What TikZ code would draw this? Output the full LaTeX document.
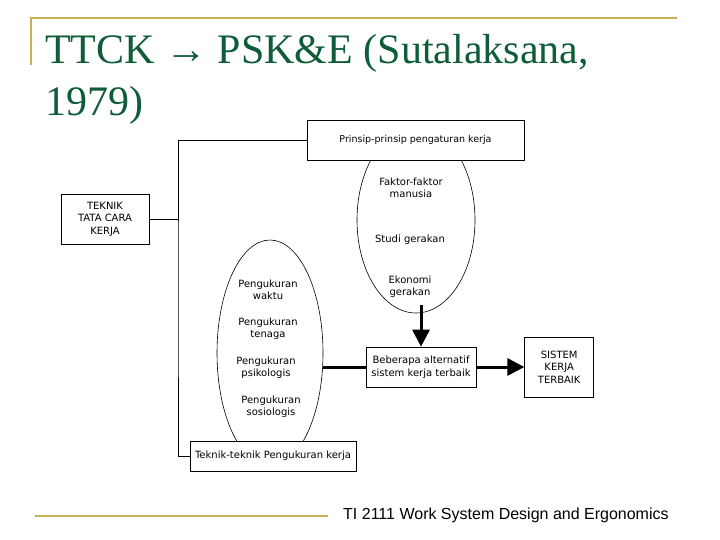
\documentclass[tikz,border=0pt]{standalone}
\usepackage{fontspec}
\setmainfont{Liberation Serif}
\newfontfamily\boxfont{DejaVu Sans}
\newfontfamily\footfont{Liberation Sans}
\usepackage{tikz}
\usetikzlibrary{positioning,shapes.geometric,arrows.meta,calc}
\definecolor{mygold}{RGB}{196,178,84}
\definecolor{mygreen}{RGB}{14,92,56}

\begin{document}
\begin{tikzpicture}[
  x=1pt,
  y=-1pt,
  mybox/.style={
    draw,
    line width=0.7pt,
    fill=white,
    align=center,
    font=\boxfont\fontsize{10}{12.5}\selectfont,
    inner sep=2pt
    },
  myell/.style={
    draw,
    line width=0.6pt,
    ellipse,
    inner sep=0pt
    },
  mytext/.style={
    align=center,
    font=\boxfont\fontsize{10}{12.3}\selectfont
    },
  fatline/.style={
    line width=3pt
    },
  fatarrow/.style={
    line width=3pt,
    -{Triangle[length=17pt,width=17pt]}
    }
]
\useasboundingbox (0,0) rectangle (720,540);

% slide frame
\draw[mygold, line width=2.5pt] (30,18) -- (677,18);
\draw[mygold, line width=2.5pt] (31,18) -- (31,65);
\draw[mygold, line width=1.5pt] (35,516) -- (328,516);

\node[anchor=base west, text=mygreen, font=\fontsize{42}{46}\selectfont, inner sep=0pt]
  (title1) at (45,64) {TTCK → PSK\&E (Sutalaksana,};
\node[anchor=base west, text=mygreen, font=\fontsize{42}{46}\selectfont, inner sep=0pt]
  (title2) at (45,116) {1979)};
\node[anchor=base west, font=\footfont\fontsize{16}{18}\selectfont, inner sep=0pt]
  (foot) at (343,519) {TI 2111 Work System Design and Ergonomics};

% ellipses (behind the boxes)
\node[myell, minimum width=118pt, minimum height=186pt] (ellkanan) at (416,220) {};
\node[myell, minimum width=106pt, minimum height=226pt] (ellkiri) at (270,353) {};

\node[mytext] (faktor) at (411,188) {Faktor-faktor\\manusia};
\node[mytext] (studi) at (410,240) {Studi gerakan};
\node[mytext] (ekonomi) at (410,287) {Ekonomi\\gerakan};

\node[mytext] (waktu) at (268,290) {Pengukuran\\waktu};
\node[mytext] (tenaga) at (268,329) {Pengukuran\\tenaga};
\node[mytext] (psiko) at (266,368) {Pengukuran\\psikologis};
\node[mytext] (sosio) at (271,407) {Pengukuran\\sosiologis};

% boxes
\node[mybox, minimum width=217pt, minimum height=40pt, font=\boxfont\fontsize{9.5}{12}\selectfont] (prinsip) at (415.5,140) {Prinsip-prinsip pengaturan kerja};
\node[mybox, minimum width=88pt, minimum height=50pt] (ttck) at (105,219) {TEKNIK\\TATA CARA\\KERJA};
\node[mybox, minimum width=166pt, minimum height=30pt] (ukur) at (273,456) {Teknik-teknik Pengukuran kerja};
\node[mybox, minimum width=110pt, minimum height=40pt] (alternatif) at (421,367) {Beberapa alternatif\\sistem kerja terbaik};
\node[mybox, minimum width=69pt, minimum height=60pt, right=48pt of alternatif] (sistem) {SISTEM\\KERJA\\TERBAIK};

% connectors
\coordinate (trunk) at (178,300);
\draw[line width=0.7pt] (prinsip.west) -| (trunk) |- (ukur.west);
\draw[line width=0.7pt] (ttck.east) -- (ttck.east -| trunk);
\draw[fatarrow] ([yshift=8pt]ellkanan.south -| alternatif.north) -- (alternatif.north);
\draw[fatline] (ellkiri.east |- alternatif.west) -- (alternatif.west);
\draw[fatarrow] (alternatif.east) -- (sistem.west);

\end{tikzpicture}
\end{document}
